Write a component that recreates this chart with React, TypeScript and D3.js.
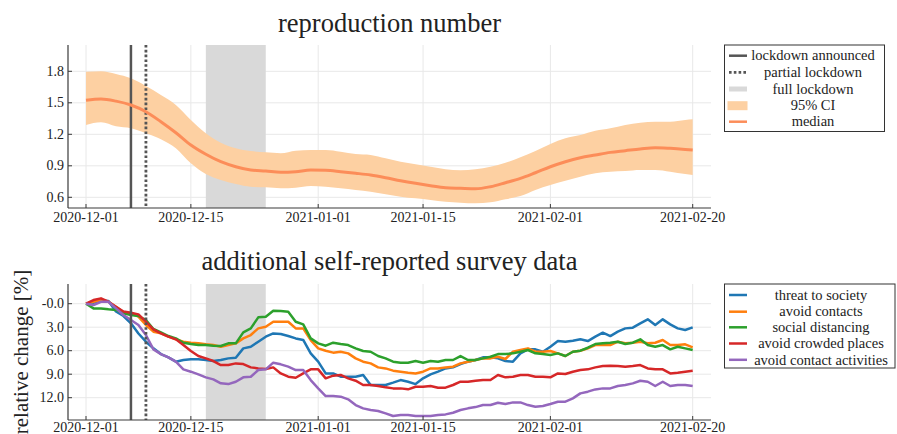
import React from "react";
import * as d3 from "d3";

// ---------- data ----------
const xTickDates = ["2020-12-01", "2020-12-15", "2021-01-01", "2021-01-15", "2021-02-01", "2021-02-20"];
const lockdownAnnounced = "2020-12-07";
const partialLockdown = "2020-12-09";
const fullLockdown = ["2020-12-17", "2020-12-25"];

const rTicks = [0.6, 0.9, 1.2, 1.5, 1.8];
const rTickLabels = ["0.6", "0.9", "1.2", "1.5", "1.8"];
const sTicks = [0, 3, 6, 9, 12];
const sTickLabels = ["-0.0", "3.0", "6.0", "9.0", "12.0"];

const rDays = [0, 2, 4, 6, 8, 10, 12, 14, 16, 18, 20, 22, 24, 26, 28, 30, 32, 34, 36, 38, 40, 42, 44, 46, 48, 50, 52, 54, 56, 58, 60, 62, 64, 66, 68, 70, 72, 74, 76, 78, 80, 81];
const rMedian = [1.524, 1.536, 1.516, 1.479, 1.415, 1.32, 1.215, 1.098, 1.01, 0.939, 0.891, 0.86, 0.85, 0.838, 0.844, 0.86, 0.857, 0.844, 0.829, 0.812, 0.787, 0.758, 0.733, 0.711, 0.692, 0.686, 0.681, 0.701, 0.739, 0.78, 0.834, 0.891, 0.939, 0.977, 1.003, 1.028, 1.044, 1.06, 1.072, 1.066, 1.056, 1.05];
const rUpper = [1.796, 1.8, 1.774, 1.733, 1.66, 1.574, 1.479, 1.336, 1.21, 1.12, 1.067, 1.041, 1.028, 1.019, 1.044, 1.05, 1.05, 1.034, 1.012, 1.003, 0.971, 0.939, 0.914, 0.891, 0.867, 0.858, 0.866, 0.89, 0.929, 0.981, 1.041, 1.108, 1.162, 1.193, 1.234, 1.257, 1.289, 1.31, 1.32, 1.32, 1.336, 1.343];
const rLower = [1.289, 1.314, 1.276, 1.257, 1.21, 1.152, 1.067, 0.924, 0.822, 0.765, 0.727, 0.701, 0.695, 0.686, 0.692, 0.708, 0.7, 0.686, 0.67, 0.654, 0.629, 0.606, 0.59, 0.574, 0.558, 0.549, 0.543, 0.552, 0.581, 0.612, 0.67, 0.717, 0.758, 0.796, 0.829, 0.844, 0.85, 0.86, 0.86, 0.844, 0.822, 0.812];

const surveyStart = "2020-12-01";
const threatToSociety = [0, -0.1, -0.38, -0.34, 1.0, 1.57, 2.5, 3.8, 4.85, 5.7, 6.43, 6.85, 7.4, 7.19, 7.1, 7.1, 7.19, 7.32, 7.19, 6.98, 6.89, 5.7, 5.49, 4.85, 4.21, 3.79, 3.87, 4.13, 4.43, 4.63, 6.34, 7.4, 8.9, 8.9, 9.32, 9.32, 9.32, 9.1, 10.38, 10.38, 10.38, 10.08, 9.75, 9.96, 10.26, 9.53, 9.02, 8.68, 8.26, 8.13, 7.7, 7.4, 7.19, 6.85, 6.85, 6.98, 7.32, 7.4, 6.34, 5.83, 5.83, 6.13, 5.49, 4.77, 4.85, 4.72, 4.55, 4.77, 4.21, 3.7, 4.13, 3.57, 3.15, 3.06, 2.51, 2.0, 2.72, 2.0, 2.64, 3.15, 3.36, 3.02];
const avoidContacts = [0, -0.25, -0.47, -0.25, 0.38, 1.1, 1.23, 1.66, 2.72, 3.57, 3.79, 4.2, 4.55, 4.85, 4.98, 5.06, 5.19, 5.28, 5.49, 5.28, 5.06, 4.43, 4.0, 3.15, 2.94, 2.3, 2.3, 2.3, 3.15, 3.15, 4.64, 5.7, 6.0, 6.25, 6.13, 6.34, 6.98, 7.4, 7.62, 8.13, 8.26, 8.55, 8.68, 8.81, 8.9, 8.68, 8.26, 8.26, 8.13, 8.04, 7.62, 7.4, 7.19, 6.98, 6.98, 6.77, 7.06, 6.13, 5.91, 5.7, 6.13, 6.13, 6.04, 6.34, 6.68, 6.13, 6.0, 5.7, 5.28, 5.28, 5.28, 4.85, 5.06, 4.98, 4.85, 5.06, 4.98, 4.64, 5.28, 5.28, 5.19, 5.57];
const socialDistancing = [0, 0.6, 0.6, 0.72, 0.8, 1.23, 1.45, 1.57, 2.08, 3.23, 3.66, 4.13, 4.43, 4.98, 5.15, 5.28, 5.28, 5.36, 5.4, 5.06, 5.06, 3.66, 3.15, 1.74, 1.66, 0.89, 0.94, 1.02, 2.3, 2.64, 4.43, 5.06, 5.36, 4.98, 5.15, 5.28, 5.7, 6.04, 6.13, 6.68, 6.98, 7.4, 7.53, 7.53, 7.32, 7.53, 7.32, 7.4, 7.19, 7.19, 6.68, 7.19, 7.19, 6.98, 6.77, 6.43, 6.43, 6.34, 6.13, 5.91, 6.34, 6.43, 6.55, 6.34, 6.68, 6.13, 6.0, 5.62, 5.15, 5.06, 4.98, 4.85, 5.15, 4.98, 4.55, 5.28, 5.49, 5.28, 5.83, 5.49, 5.7, 5.91];
const avoidCrowded = [0, -0.47, -0.68, -0.25, 0.38, 1.0, 1.15, 1.36, 2.3, 3.28, 3.79, 4.2, 4.55, 5.28, 6.04, 6.68, 6.98, 7.32, 7.83, 7.83, 7.62, 7.7, 8.13, 8.26, 8.34, 8.13, 8.9, 9.32, 9.45, 8.9, 8.38, 8.38, 9.53, 9.19, 9.1, 9.53, 9.83, 10.38, 10.38, 10.51, 10.68, 10.81, 10.81, 10.93, 10.6, 10.6, 10.51, 10.72, 10.72, 10.38, 9.96, 9.96, 9.83, 9.74, 9.74, 9.1, 9.4, 9.32, 9.1, 9.1, 9.32, 9.32, 9.4, 8.9, 8.98, 8.68, 8.47, 8.38, 8.13, 7.96, 7.91, 7.96, 8.04, 7.96, 7.83, 8.26, 8.38, 8.38, 8.9, 8.81, 8.68, 8.55];
const avoidActivities = [0, 0.17, -0.25, -0.25, 0.6, 1.45, 2.08, 2.72, 4.0, 5.83, 6.43, 6.85, 7.4, 8.38, 8.68, 9.02, 9.4, 9.66, 10.17, 10.26, 9.96, 9.4, 9.32, 8.47, 8.38, 7.53, 7.74, 8.04, 8.47, 8.47, 9.75, 10.8, 11.79, 11.79, 11.87, 12.21, 12.94, 13.36, 13.57, 13.7, 14.0, 14.34, 14.21, 14.21, 14.34, 14.34, 14.34, 14.21, 14.13, 13.92, 13.57, 13.36, 13.2, 12.94, 12.94, 12.64, 12.8, 12.6, 12.6, 12.94, 13.15, 13.06, 12.8, 12.51, 12.51, 12.09, 11.45, 11.23, 10.94, 10.81, 10.81, 10.51, 10.38, 10.17, 9.83, 9.96, 10.51, 9.96, 10.51, 10.38, 10.38, 10.51];

const surveyNames = ["threat to society", "avoid contacts", "social distancing", "avoid crowded places", "avoid contact activities"];
const surveySeries = [threatToSociety, avoidContacts, socialDistancing, avoidCrowded, avoidActivities];
const surveyColors = ["#1f77b4", "#ff7f0e", "#2ca02c", "#d62728", "#9467bd"];

// ---------- layout ----------
const W = 897, H = 434;
const FONT = "'Liberation Serif', 'Times New Roman', serif";
const TXT = "#222";
const GRID = "#e8e8e8";
const AX = "#3a3a3a";
const VLINE = "#555";
const BAND = "#d9d9d9";
const CI = "#fdd0a2";
const MED = "#fc8d59";
const DASH = "2.6 2.2";

const left = 68, right = 711;
const top1 = { t: 45, b: 208 };
const top2 = { t: 284, b: 420 };

const parse = (s: string) => d3.utcParse("%Y-%m-%d")(s) as Date;
const x = d3.scaleUtc().domain([parse("2020-12-01"), parse("2021-02-20")]).range([86, 692.7]);
const yR = d3.scaleLinear().domain([0.6, 1.8]).range([197.3, 71.3]);
const yS = d3.scaleLinear().domain([0, 12]).range([303.7, 397.7]);
const addDays = (s: string, n: number) => d3.utcDay.offset(parse(s), n);

function Frame({ t, b, y, ticks }: any) {
  return (
    <g>
      {xTickDates.map((d) => (
        <line key={"gx" + d} x1={x(parse(d))} x2={x(parse(d))} y1={t} y2={b} stroke={GRID} strokeWidth={1} />
      ))}
      {ticks.map((v: number) => (
        <line key={"gy" + v} x1={left} x2={right} y1={y(v)} y2={y(v)} stroke={GRID} strokeWidth={1} />
      ))}
    </g>
  );
}

function Axes({ t, b, y, ticks, labels, lab }: any) {
  return (
    <g>
      <line x1={left} x2={left} y1={t} y2={b} stroke={AX} strokeWidth={1.2} />
      <line x1={left} x2={right} y1={b} y2={b} stroke={AX} strokeWidth={1.2} />
      {xTickDates.map((d) => (
        <g key={"tx" + d}>
          <line x1={x(parse(d))} x2={x(parse(d))} y1={b} y2={b - 4} stroke={AX} strokeWidth={1} />
          <text x={x(parse(d))} y={b + lab} textAnchor="middle" fontSize={14} fill={TXT} fontFamily={FONT}>{d}</text>
        </g>
      ))}
      {ticks.map((v: number, i: number) => (
        <g key={"ty" + v}>
          <line x1={left} x2={left + 4} y1={y(v)} y2={y(v)} stroke={AX} strokeWidth={1} />
          <text x={left - 4} y={y(v)} dy="0.33em" textAnchor="end" fontSize={14} fill={TXT} fontFamily={FONT}>{labels[i]}</text>
        </g>
      ))}
    </g>
  );
}

function Events({ t, b }: any) {
  const xa = x(parse(lockdownAnnounced));
  const xp = x(parse(partialLockdown));
  return (
    <g>
      <line x1={xa} x2={xa} y1={t} y2={b} stroke={VLINE} strokeWidth={2.5} />
      <line x1={xp} x2={xp} y1={t} y2={b} stroke={VLINE} strokeWidth={2.8} strokeDasharray={DASH} />
    </g>
  );
}

function Band({ t, b }: any) {
  const x0 = x(parse(fullLockdown[0]));
  const x1 = x(parse(fullLockdown[1]));
  return <rect x={x0} y={t} width={x1 - x0} height={b - t} fill={BAND} />;
}

export default function App() {
  const rDates = rDays.map((d) => addDays("2020-12-01", d));
  const area = d3
    .area<number>()
    .x((_, i) => x(rDates[i]))
    .y0((_, i) => yR(rLower[i]))
    .y1((_, i) => yR(rUpper[i]))
    .curve(d3.curveMonotoneX);
  const medLine = d3
    .line<number>()
    .x((_, i) => x(rDates[i]))
    .y((v) => yR(v))
    .curve(d3.curveMonotoneX);
  const sLine = d3
    .line<number>()
    .x((_, i) => x(addDays(surveyStart, i)))
    .y((v) => yS(v));

  const leg1x = 724.5, leg1y = 45, leg1w = 160, leg1h = 86.5;
  const leg1Rows = [55.7, 72.3, 89, 105.7, 121.7];
  const leg1Labels = ["lockdown announced", "partial lockdown", "full lockdown", "95% CI", "median"];
  const leg2x = 724.5, leg2y = 284, leg2w = 170.5, leg2h = 84;
  const leg2Rows = [295, 311.7, 327.3, 343.5, 359.8];

  return (
    <svg width={W} height={H} style={{ position: "absolute", left: 0, top: 0, background: "#fff" }}>
      <rect x={0} y={0} width={W} height={H} fill="#fff" />
      {/* titles */}
      <text x={(left + right) / 2} y={31.5} textAnchor="middle" fontSize={26.5} fill={TXT} fontFamily={FONT}>reproduction number</text>
      <text x={(left + right) / 2} y={270} textAnchor="middle" fontSize={26.5} fill={TXT} fontFamily={FONT}>additional self-reported survey data</text>
      <text transform={`translate(28,${(top2.t + top2.b) / 2}) rotate(-90)`} textAnchor="middle" fontSize={21} fill={TXT} fontFamily={FONT}>relative change [%]</text>

      {/* top panel */}
      <Frame t={top1.t} b={top1.b} y={yR} ticks={rTicks} />
      <Band t={top1.t} b={top1.b} />
      <path d={area(rMedian) || ""} fill={CI} />
      <Events t={top1.t} b={top1.b} />
      <path d={medLine(rMedian) || ""} fill="none" stroke={MED} strokeWidth={3} />
      <Axes t={top1.t} b={top1.b} y={yR} ticks={rTicks} labels={rTickLabels} lab={13.5} />

      {/* bottom panel */}
      <Frame t={top2.t} b={top2.b} y={yS} ticks={sTicks} />
      <Band t={top2.t} b={top2.b} />
      {surveySeries.map((s, i) => (
        <path key={surveyNames[i]} d={sLine(s) || ""} fill="none" stroke={surveyColors[i]} strokeWidth={2.5} strokeLinejoin="round" />
      ))}
      <Events t={top2.t} b={top2.b} />
      <Axes t={top2.t} b={top2.b} y={yS} ticks={sTicks} labels={sTickLabels} lab={12.3} />

      {/* legend 1 */}
      <rect x={leg1x} y={leg1y} width={leg1w} height={leg1h} fill="#fff" stroke="#333" strokeWidth={1} />
      <line x1={729} x2={747} y1={leg1Rows[0]} y2={leg1Rows[0]} stroke={VLINE} strokeWidth={2.5} />
      <line x1={729} x2={747} y1={leg1Rows[1]} y2={leg1Rows[1]} stroke={VLINE} strokeWidth={2.8} strokeDasharray={DASH} />
      <rect x={729} y={leg1Rows[2] - 2.5} width={18} height={5} fill={BAND} />
      <rect x={727.5} y={leg1Rows[3] - 4.5} width={20} height={9} fill={CI} />
      <line x1={729} x2={747} y1={leg1Rows[4]} y2={leg1Rows[4]} stroke={MED} strokeWidth={2.5} />
      {leg1Labels.map((l, i) => (
        <text key={l} x={813} y={leg1Rows[i]} dy="0.33em" textAnchor="middle" fontSize={14.5} fill={TXT} fontFamily={FONT}>{l}</text>
      ))}

      {/* legend 2 */}
      <rect x={leg2x} y={leg2y} width={leg2w} height={leg2h} fill="#fff" stroke="#333" strokeWidth={1} />
      {surveyNames.map((n, i) => (
        <g key={"l2" + n}>
          <line x1={729} x2={747} y1={leg2Rows[i]} y2={leg2Rows[i]} stroke={surveyColors[i]} strokeWidth={2.5} />
          <text x={821} y={leg2Rows[i]} dy="0.33em" textAnchor="middle" fontSize={14.5} fill={TXT} fontFamily={FONT}>{n}</text>
        </g>
      ))}
    </svg>
  );
}
